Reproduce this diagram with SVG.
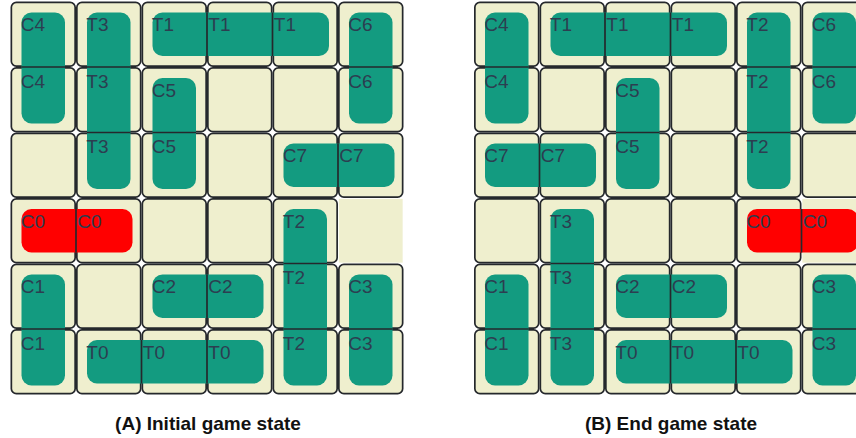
<svg xmlns="http://www.w3.org/2000/svg" xmlns:xlink="http://www.w3.org/1999/xlink" width="856" height="438" viewBox="0 0 856 438">
<style>
.cell{fill:#efefce;stroke:#25282c;stroke-width:1.7}
.exit{fill:#efefce;stroke:none}
.car{fill:#139b80}
.red{fill:#ff0000}
.div{stroke:#25282c;stroke-width:1.7}
.lbl{font-family:"Liberation Sans",Arial,sans-serif;font-size:19px;fill:#2c3e50}
.ttl{font-family:"Liberation Sans",Arial,sans-serif;font-size:19px;font-weight:bold;fill:#111;text-anchor:middle}
</style>
<defs>
<rect id="c" class="cell" x="0.85" y="0.85" width="63.8" height="63.8" rx="5"/>
<rect id="ex" class="exit" x="0.85" y="0.85" width="63.8" height="63.8"/>
</defs>

<!-- Panel A -->
<g id="panelA" transform="translate(10.5,1.5)">
<g id="gridA">
<use href="#c" x="0" y="0"/><use href="#c" x="65.5" y="0"/><use href="#c" x="131" y="0"/><use href="#c" x="196.5" y="0"/><use href="#c" x="262" y="0"/><use href="#c" x="327.5" y="0"/>
<use href="#c" x="0" y="65.5"/><use href="#c" x="65.5" y="65.5"/><use href="#c" x="131" y="65.5"/><use href="#c" x="196.5" y="65.5"/><use href="#c" x="262" y="65.5"/><use href="#c" x="327.5" y="65.5"/>
<use href="#c" x="0" y="131"/><use href="#c" x="65.5" y="131"/><use href="#c" x="131" y="131"/><use href="#c" x="196.5" y="131"/><use href="#c" x="262" y="131"/><use href="#c" x="327.5" y="131"/>
<use href="#c" x="0" y="196.5"/><use href="#c" x="65.5" y="196.5"/><use href="#c" x="131" y="196.5"/><use href="#c" x="196.5" y="196.5"/><use href="#c" x="262" y="196.5"/><use href="#ex" x="327.5" y="196.5"/>
<use href="#c" x="0" y="262"/><use href="#c" x="65.5" y="262"/><use href="#c" x="131" y="262"/><use href="#c" x="196.5" y="262"/><use href="#c" x="262" y="262"/><use href="#c" x="327.5" y="262"/>
<use href="#c" x="0" y="327.5"/><use href="#c" x="65.5" y="327.5"/><use href="#c" x="131" y="327.5"/><use href="#c" x="196.5" y="327.5"/><use href="#c" x="262" y="327.5"/><use href="#c" x="327.5" y="327.5"/>
</g>
<g id="A-C4"><rect class="car" x="11" y="11" width="43.5" height="111" rx="10"/><line class="div" x1="11" y1="65.5" x2="54.5" y2="65.5"/><text class="lbl" x="10.3" y="29.5">C4</text><text class="lbl" x="10.3" y="86.3">C4</text></g>
<g id="A-T3"><rect class="car" x="76.5" y="11" width="43.5" height="176.5" rx="10"/><line class="div" x1="76.5" y1="65.5" x2="120" y2="65.5"/><line class="div" x1="76.5" y1="131" x2="120" y2="131"/><text class="lbl" x="75.8" y="29.5">T3</text><text class="lbl" x="75.8" y="86.3">T3</text><text class="lbl" x="75.8" y="151.8">T3</text></g>
<g id="A-T1"><rect class="car" x="142" y="11" width="176.5" height="43.5" rx="10"/><line class="div" x1="196.5" y1="11" x2="196.5" y2="54.5"/><line class="div" x1="262" y1="11" x2="262" y2="54.5"/><text class="lbl" x="141.3" y="29.5">T1</text><text class="lbl" x="197.8" y="29.5">T1</text><text class="lbl" x="263.3" y="29.5">T1</text></g>
<g id="A-C6"><rect class="car" x="338.5" y="11" width="43.5" height="111" rx="10"/><line class="div" x1="338.5" y1="65.5" x2="382" y2="65.5"/><text class="lbl" x="337.8" y="29.5">C6</text><text class="lbl" x="337.8" y="86.3">C6</text></g>
<g id="A-C5"><rect class="car" x="142" y="76.5" width="43.5" height="111" rx="10"/><line class="div" x1="142" y1="131" x2="185.5" y2="131"/><text class="lbl" x="141.3" y="95">C5</text><text class="lbl" x="141.3" y="151.8">C5</text></g>
<g id="A-C7"><rect class="car" x="273" y="142" width="111" height="43.5" rx="10"/><line class="div" x1="327.5" y1="142" x2="327.5" y2="185.5"/><text class="lbl" x="272.3" y="160.5">C7</text><text class="lbl" x="328.8" y="160.5">C7</text></g>
<g id="A-C0"><rect class="red" x="11" y="207.5" width="111" height="43.5" rx="10"/><line class="div" x1="65.5" y1="207.5" x2="65.5" y2="251"/><text class="lbl" x="10.3" y="226">C0</text><text class="lbl" x="66.8" y="226">C0</text></g>
<g id="A-T2"><rect class="car" x="273" y="207.5" width="43.5" height="176.5" rx="10"/><line class="div" x1="273" y1="262" x2="316.5" y2="262"/><line class="div" x1="273" y1="327.5" x2="316.5" y2="327.5"/><text class="lbl" x="272.3" y="226">T2</text><text class="lbl" x="272.3" y="282.8">T2</text><text class="lbl" x="272.3" y="348.3">T2</text></g>
<g id="A-C1"><rect class="car" x="11" y="273" width="43.5" height="111" rx="10"/><line class="div" x1="11" y1="327.5" x2="54.5" y2="327.5"/><text class="lbl" x="10.3" y="291.5">C1</text><text class="lbl" x="10.3" y="348.3">C1</text></g>
<g id="A-C2"><rect class="car" x="142" y="273" width="111" height="43.5" rx="10"/><line class="div" x1="196.5" y1="273" x2="196.5" y2="316.5"/><text class="lbl" x="141.3" y="291.5">C2</text><text class="lbl" x="197.8" y="291.5">C2</text></g>
<g id="A-C3"><rect class="car" x="338.5" y="273" width="43.5" height="111" rx="10"/><line class="div" x1="338.5" y1="327.5" x2="382" y2="327.5"/><text class="lbl" x="337.8" y="291.5">C3</text><text class="lbl" x="337.8" y="348.3">C3</text></g>
<g id="A-T0"><rect class="car" x="76.5" y="338.5" width="176.5" height="43.5" rx="10"/><line class="div" x1="131" y1="338.5" x2="131" y2="382"/><line class="div" x1="196.5" y1="338.5" x2="196.5" y2="382"/><text class="lbl" x="75.8" y="357">T0</text><text class="lbl" x="132.3" y="357">T0</text><text class="lbl" x="197.8" y="357">T0</text></g>
</g>

<!-- Panel B -->
<g id="panelB" transform="translate(474,1.5)">
<g id="gridB">
<use href="#c" x="0" y="0"/><use href="#c" x="65.5" y="0"/><use href="#c" x="131" y="0"/><use href="#c" x="196.5" y="0"/><use href="#c" x="262" y="0"/><use href="#c" x="327.5" y="0"/>
<use href="#c" x="0" y="65.5"/><use href="#c" x="65.5" y="65.5"/><use href="#c" x="131" y="65.5"/><use href="#c" x="196.5" y="65.5"/><use href="#c" x="262" y="65.5"/><use href="#c" x="327.5" y="65.5"/>
<use href="#c" x="0" y="131"/><use href="#c" x="65.5" y="131"/><use href="#c" x="131" y="131"/><use href="#c" x="196.5" y="131"/><use href="#c" x="262" y="131"/><use href="#c" x="327.5" y="131"/>
<use href="#c" x="0" y="196.5"/><use href="#c" x="65.5" y="196.5"/><use href="#c" x="131" y="196.5"/><use href="#c" x="196.5" y="196.5"/><use href="#c" x="262" y="196.5"/><use href="#ex" x="327.5" y="196.5"/>
<use href="#c" x="0" y="262"/><use href="#c" x="65.5" y="262"/><use href="#c" x="131" y="262"/><use href="#c" x="196.5" y="262"/><use href="#c" x="262" y="262"/><use href="#c" x="327.5" y="262"/>
<use href="#c" x="0" y="327.5"/><use href="#c" x="65.5" y="327.5"/><use href="#c" x="131" y="327.5"/><use href="#c" x="196.5" y="327.5"/><use href="#c" x="262" y="327.5"/><use href="#c" x="327.5" y="327.5"/>
</g>
<g id="B-C4"><rect class="car" x="11" y="11" width="43.5" height="111" rx="10"/><line class="div" x1="11" y1="65.5" x2="54.5" y2="65.5"/><text class="lbl" x="10.3" y="29.5">C4</text><text class="lbl" x="10.3" y="86.3">C4</text></g>
<g id="B-T1"><rect class="car" x="76.5" y="11" width="176.5" height="43.5" rx="10"/><line class="div" x1="131" y1="11" x2="131" y2="54.5"/><line class="div" x1="196.5" y1="11" x2="196.5" y2="54.5"/><text class="lbl" x="75.8" y="29.5">T1</text><text class="lbl" x="132.3" y="29.5">T1</text><text class="lbl" x="197.8" y="29.5">T1</text></g>
<g id="B-T2"><rect class="car" x="273" y="11" width="43.5" height="176.5" rx="10"/><line class="div" x1="273" y1="65.5" x2="316.5" y2="65.5"/><line class="div" x1="273" y1="131" x2="316.5" y2="131"/><text class="lbl" x="272.3" y="29.5">T2</text><text class="lbl" x="272.3" y="86.3">T2</text><text class="lbl" x="272.3" y="151.8">T2</text></g>
<g id="B-C6"><rect class="car" x="338.5" y="11" width="43.5" height="111" rx="10"/><line class="div" x1="338.5" y1="65.5" x2="382" y2="65.5"/><text class="lbl" x="337.8" y="29.5">C6</text><text class="lbl" x="337.8" y="86.3">C6</text></g>
<g id="B-C5"><rect class="car" x="142" y="76.5" width="43.5" height="111" rx="10"/><line class="div" x1="142" y1="131" x2="185.5" y2="131"/><text class="lbl" x="141.3" y="95">C5</text><text class="lbl" x="141.3" y="151.8">C5</text></g>
<g id="B-C7"><rect class="car" x="11" y="142" width="111" height="43.5" rx="10"/><line class="div" x1="65.5" y1="142" x2="65.5" y2="185.5"/><text class="lbl" x="10.3" y="160.5">C7</text><text class="lbl" x="66.8" y="160.5">C7</text></g>
<g id="B-T3"><rect class="car" x="76.5" y="207.5" width="43.5" height="176.5" rx="10"/><line class="div" x1="76.5" y1="262" x2="120" y2="262"/><line class="div" x1="76.5" y1="327.5" x2="120" y2="327.5"/><text class="lbl" x="75.8" y="226">T3</text><text class="lbl" x="75.8" y="282.8">T3</text><text class="lbl" x="75.8" y="348.3">T3</text></g>
<g id="B-C0"><rect class="red" x="273" y="207.5" width="111" height="43.5" rx="10"/><line class="div" x1="327.5" y1="207.5" x2="327.5" y2="251"/><text class="lbl" x="272.3" y="226">C0</text><text class="lbl" x="328.8" y="226">C0</text></g>
<g id="B-C1"><rect class="car" x="11" y="273" width="43.5" height="111" rx="10"/><line class="div" x1="11" y1="327.5" x2="54.5" y2="327.5"/><text class="lbl" x="10.3" y="291.5">C1</text><text class="lbl" x="10.3" y="348.3">C1</text></g>
<g id="B-C2"><rect class="car" x="142" y="273" width="111" height="43.5" rx="10"/><line class="div" x1="196.5" y1="273" x2="196.5" y2="316.5"/><text class="lbl" x="141.3" y="291.5">C2</text><text class="lbl" x="197.8" y="291.5">C2</text></g>
<g id="B-C3"><rect class="car" x="338.5" y="273" width="43.5" height="111" rx="10"/><line class="div" x1="338.5" y1="327.5" x2="382" y2="327.5"/><text class="lbl" x="337.8" y="291.5">C3</text><text class="lbl" x="337.8" y="348.3">C3</text></g>
<g id="B-T0"><rect class="car" x="142" y="338.5" width="176.5" height="43.5" rx="10"/><line class="div" x1="196.5" y1="338.5" x2="196.5" y2="382"/><line class="div" x1="262" y1="338.5" x2="262" y2="382"/><text class="lbl" x="141.3" y="357">T0</text><text class="lbl" x="197.8" y="357">T0</text><text class="lbl" x="263.3" y="357">T0</text></g>
</g>

<g id="captions">
<text class="ttl" x="208" y="430">(A) Initial game state</text>
<text class="ttl" x="671" y="430">(B) End game state</text>
</g>
</svg>
